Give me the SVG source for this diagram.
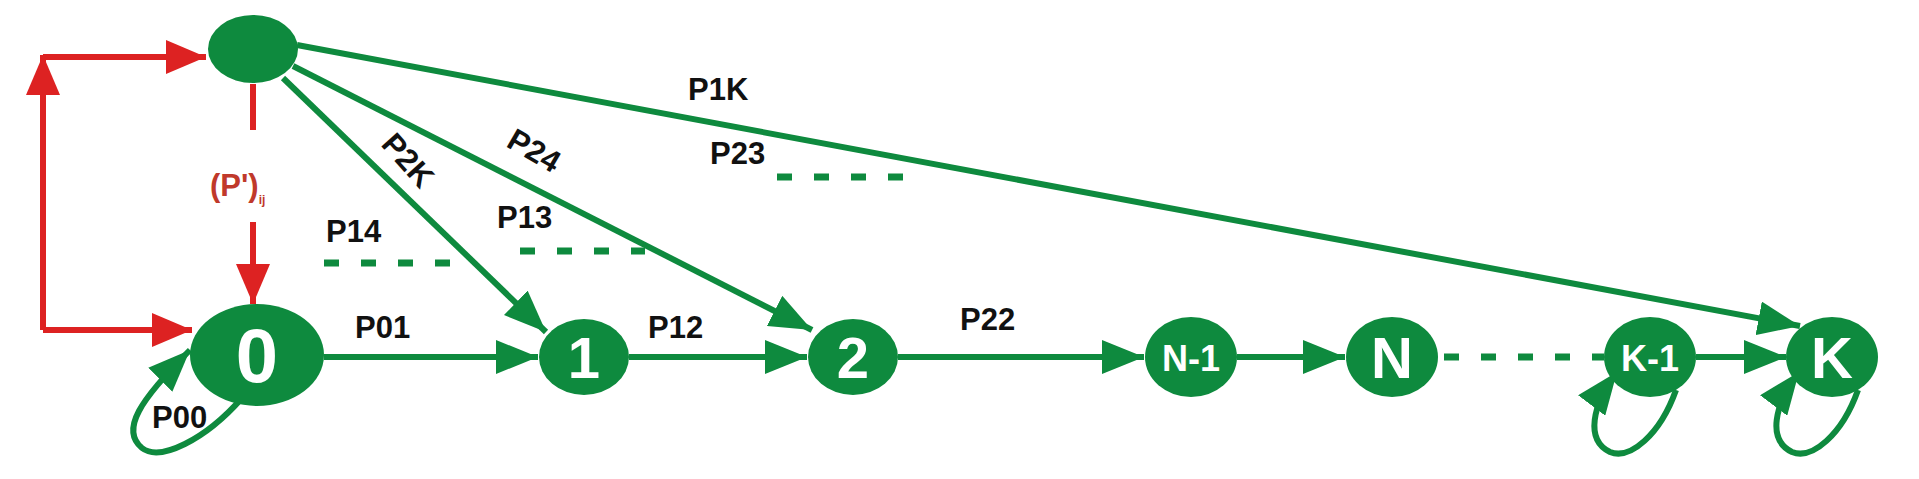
<svg xmlns="http://www.w3.org/2000/svg" width="1919" height="479" viewBox="0 0 1919 479">
<style>
.n{fill:#0e8a3e}
.t{font-family:"Liberation Sans",Arial,sans-serif;font-weight:bold;fill:#fff;text-anchor:middle}
.l{font-family:"Liberation Sans",Arial,sans-serif;font-weight:bold;fill:#111;font-size:31px}
.g{stroke:#0e8a3e;stroke-width:6;fill:none}
.r{stroke:#dd2222;stroke-width:6;fill:none}
.d{stroke:#0e8a3e;stroke-width:7;stroke-dasharray:15 22;fill:none}
</style>
<defs>
<marker id="ag" viewBox="0 0 10 10" refX="10" refY="5" markerWidth="42" markerHeight="34" markerUnits="userSpaceOnUse" orient="auto" preserveAspectRatio="none"><path d="M0,0L10,5L0,10z" fill="#0e8a3e"/></marker>
<marker id="ar" viewBox="0 0 10 10" refX="10" refY="5" markerWidth="40" markerHeight="34" markerUnits="userSpaceOnUse" orient="auto" preserveAspectRatio="none"><path d="M0,0L10,5L0,10z" fill="#dd2222"/></marker>
</defs>
<g id="connectors">
<path class="r" d="M43,330V55" marker-end="url(#ar)"/>
<path class="r" d="M43,57H206" marker-end="url(#ar)"/>
<path class="r" d="M43,330H192" marker-end="url(#ar)"/>
<path class="r" d="M253,84V130"/>
<path class="r" d="M253,222V304" marker-end="url(#ar)"/>
<path class="g" d="M324,357H538" marker-end="url(#ag)"/>
<path class="g" d="M629,357H807" marker-end="url(#ag)"/>
<path class="g" d="M898,357H1144" marker-end="url(#ag)"/>
<path class="g" d="M1237,357H1345" marker-end="url(#ag)"/>
<path class="g" d="M1696,357H1786" marker-end="url(#ag)"/>
<path class="d" d="M1444,357H1604"/>
<path class="g" d="M283,78L546,332" marker-end="url(#ag)"/>
<path class="g" d="M293,66L812,330" marker-end="url(#ag)"/>
<path class="g" d="M297,45L1800,326" marker-end="url(#ag)"/>
<path class="d" d="M324,263H455"/>
<path class="d" d="M520,251H645"/>
<path class="d" d="M777,177H905"/>
<path class="g" d="M242,398C205,440 160,462 142,448C120,430 140,400 190,350" marker-end="url(#ag)"/>
<path class="g" d="M1676,390C1660,435 1630,460 1610,452C1585,440 1592,405 1617,372" marker-end="url(#ag)"/>
<path class="g" d="M1858,390C1842,435 1812,460 1792,452C1767,440 1774,405 1799,372" marker-end="url(#ag)"/>
</g>
<g id="top"><ellipse class="n" cx="253" cy="49" rx="45" ry="34"/></g>
<g id="n0"><ellipse class="n" cx="257" cy="355" rx="67" ry="51"/><text class="t" x="257" y="382" font-size="76">0</text></g>
<g id="n1"><ellipse class="n" cx="584" cy="357" rx="45" ry="38"/><text class="t" x="584" y="378" font-size="58">1</text></g>
<g id="n2"><ellipse class="n" cx="853" cy="357" rx="45" ry="38"/><text class="t" x="853" y="378" font-size="58">2</text></g>
<g id="nN1"><ellipse class="n" cx="1191" cy="357" rx="46" ry="40"/><text class="t" x="1191" y="371" font-size="36">N-1</text></g>
<g id="nN"><ellipse class="n" cx="1392" cy="357" rx="46" ry="40"/><text class="t" x="1392" y="378" font-size="58">N</text></g>
<g id="nK1"><ellipse class="n" cx="1650" cy="357" rx="46" ry="40"/><text class="t" x="1650" y="371" font-size="36">K-1</text></g>
<g id="nK"><ellipse class="n" cx="1832" cy="357" rx="46" ry="40"/><text class="t" x="1832" y="378" font-size="58">K</text></g>
<g id="labels">
<text class="l" x="688" y="100">P1K</text>
<text class="l" x="710" y="164">P23</text>
<text class="l" transform="translate(505,146) rotate(30)">P24</text>
<text class="l" transform="translate(380,145) rotate(48)">P2K</text>
<text class="l" x="497" y="228">P13</text>
<text class="l" x="326" y="242">P14</text>
<text class="l" x="355" y="338">P01</text>
<text class="l" x="648" y="338">P12</text>
<text class="l" x="960" y="330">P22</text>
<text class="l" x="152" y="428">P00</text>
<text x="210" y="196" font-family="Liberation Sans,Arial,sans-serif" font-weight="bold" font-size="31" fill="#c0392b">(P')<tspan font-size="12" dy="8">ij</tspan></text>
</g>
</svg>
